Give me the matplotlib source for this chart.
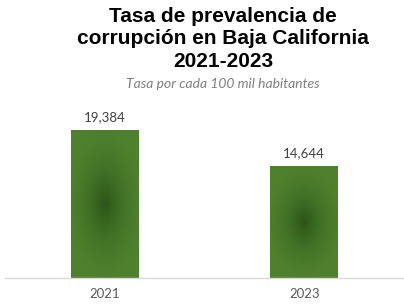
import numpy as np
import matplotlib
matplotlib.use("Agg")
import matplotlib.pyplot as plt
from matplotlib.colors import LinearSegmentedColormap

years = ["2021", "2023"]
rates = [19384, 14644]
title = "Tasa de prevalencia de\ncorrupción en Baja California\n2021-2023"
subtitle = "Tasa por cada 100 mil habitantes"

fig = plt.figure(figsize=(4.04, 3.04), dpi=100)
ax = fig.add_axes([5 / 404, 26 / 304, 399 / 404, 178 / 304])

x = np.arange(len(years))
bars = ax.bar(x, rates, width=0.34, color="none", edgecolor="none", zorder=2)

# radial gradient fill, dark in the middle
cmap = LinearSegmentedColormap.from_list("g", ["#2d5518", "#376620", "#437327", "#4a7b2a", "#4f812d"])
yy, xx = np.mgrid[-1:1:200j, -1:1:120j]
grad = np.clip(np.sqrt((xx * 0.9) ** 2 + (yy * 1.0) ** 2), 0, 1)
for b in bars:
    bx, by, bw, bh = b.get_x(), b.get_y(), b.get_width(), b.get_height()
    im = ax.imshow(grad, cmap=cmap, extent=[bx, bx + bw, by, by + bh],
                   aspect="auto", zorder=2, vmin=0, vmax=1, interpolation="bilinear")
    im.set_clip_path(b)

for xi, v in zip(x, rates):
    ax.text(xi, v + 900, f"{v:,}", ha="center", va="bottom", fontsize=9.5,
            color="#404040", family="Lato")

ax.set_xlim(-0.5, 1.5)
ax.set_ylim(0, 19384 * 178 / 148)
ax.set_xticks(x)
ax.set_xticklabels(years, fontsize=9.5, color="#595959", family="Lato")
ax.tick_params(axis="x", length=0, pad=7)
ax.set_yticks([])
for s in ["top", "right", "left"]:
    ax.spines[s].set_visible(False)
ax.spines["bottom"].set_color("#d9d9d9")
ax.spines["bottom"].set_linewidth(1)

fig.text(223 / 404, 1 - 39 / 304, title, ha="center", va="center", fontsize=15,
         fontweight="bold", family="Liberation Sans", linespacing=1.25)
fig.text(223 / 404, 1 - 84 / 304, subtitle, ha="center", va="center", fontsize=10,
         style="italic", color="#7f7f7f", family="Lato")

fig.savefig("out.png", dpi=100)
